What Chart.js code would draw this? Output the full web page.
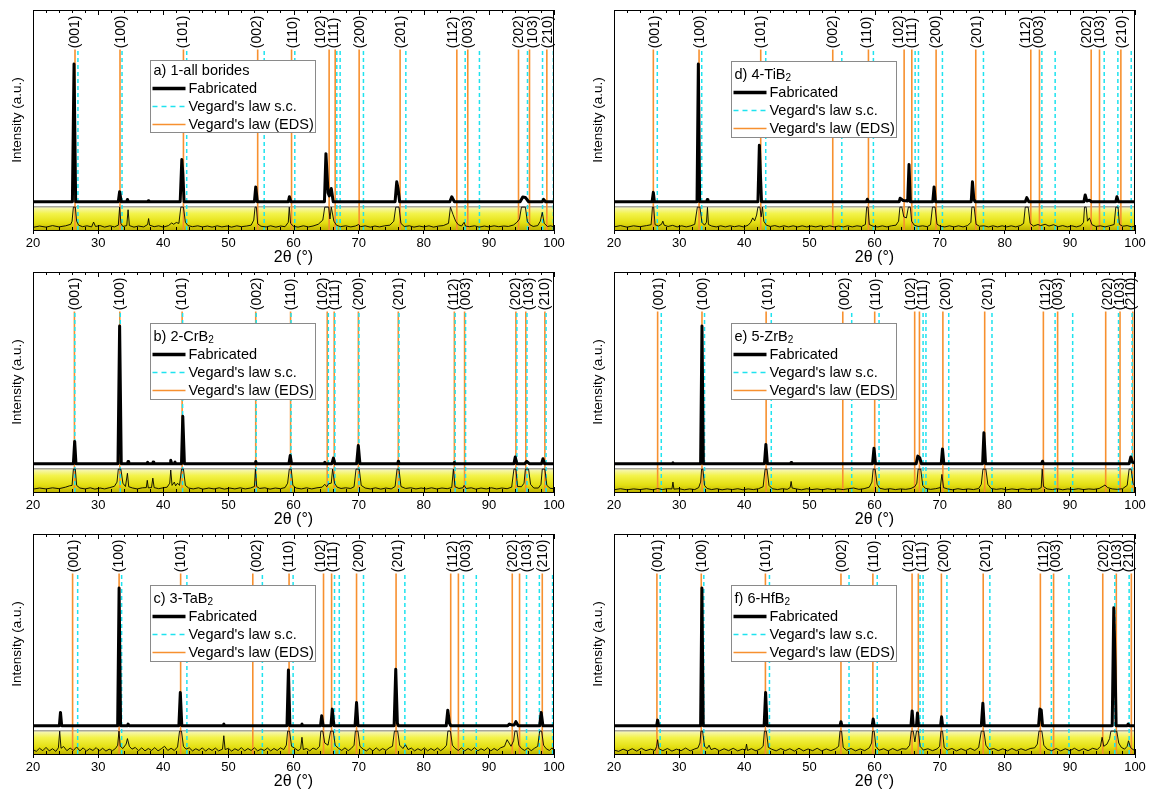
<!DOCTYPE html>
<html><head><meta charset="utf-8">
<script src="https://cdn.jsdelivr.net/npm/chart.js@4.4.1/dist/chart.umd.min.js"></script>
<style>
html,body{margin:0;padding:0;background:#fff;width:1149px;height:789px;overflow:hidden;position:relative}
canvas{position:absolute}
</style></head><body>
<canvas id="pa" width="575" height="268" style="left:0;top:0"></canvas>
<canvas id="pb" width="575" height="268" style="left:0;top:262px"></canvas>
<canvas id="pc" width="575" height="268" style="left:0;top:524px"></canvas>
<canvas id="pd" width="568" height="268" style="left:581px;top:0"></canvas>
<canvas id="pe" width="568" height="268" style="left:581px;top:262px"></canvas>
<canvas id="pf" width="568" height="268" style="left:581px;top:524px"></canvas>
<script>
// ---------- data ----------
const xMin = 20, xMax = 100, xStep = 10, xMinorStep = 2;
const yMin = 0, yMax = 100;
const bandTop = 10.6;       // top of the yellow inset band (intensity units of the panel)
const lineTop = 82;         // top of the reference lines
const labelBase = 82.6;     // start of the (hkl) labels
const reflections = ['(001)','(100)','(101)','(002)','(110)','(102)','(111)','(200)','(201)','(112)','(003)','(202)','(103)','(210)'];
const legendLabels = ['Fabricated', "Vegard's law s.c.", "Vegard's law (EDS)"];
const xTitle = '2\u03B8 (\u00B0)';
const yTitle = 'Intensity (a.u.)';

// Vegard's law (EDS) positions, Vegard's law s.c. positions, label positions
const edsA = [26.45,33.36,43.1,54.5,59.7,65.47,66.4,70.08,76.37,85.08,86.76,94.55,96.24,98.9];
const scA  = [26.9,33.67,43.6,55.5,60.2,66.65,67.16,70.74,77.25,86.36,88.55,95.93,98.24,99.9];
const lblA = [26.45,33.4,43.0,54.4,59.8,64.1,66.1,70.1,76.4,84.5,86.7,94.5,96.65,99.1];

const edsB = [26.36,33.33,42.9,54.2,59.55,65.18,66.25,69.96,76.09,84.7,86.27,94.15,95.67,98.6];
const scB  = [26.42,33.4,42.97,54.27,59.62,65.35,66.35,70.05,76.2,84.82,86.42,94.3,95.85,98.78];
const lblB = [26.45,33.33,42.9,54.3,59.55,64.45,66.25,69.96,76.09,84.53,86.5,94.15,96.06,98.6];

const edsC = [26.08,33.22,42.67,53.75,59.32,64.61,65.85,69.68,75.75,84.14,85.32,93.59,94.71,98.2];
const scC  = [26.86,33.61,43.63,55.22,59.94,66.3,67.03,70.75,77.1,86.1,88.07,95.78,97.75,99.78];
const lblC = [26.2,33.22,42.67,54.3,59.32,64.22,66.08,70.07,75.98,84.42,86.5,93.7,95.78,98.2];

const edsD = [26.04,33.06,42.53,53.59,59.07,64.55,65.73,69.46,75.55,84.0,85.33,93.27,94.55,97.83];
const scD  = [26.65,33.47,43.3,54.98,59.83,66.24,66.75,70.43,76.73,85.7,87.74,95.27,97.37,99.42];
const lblD = [26.3,33.2,42.53,53.59,58.82,63.68,65.73,69.46,75.71,83.23,85.18,92.61,94.55,97.9];

const edsE = [26.7,33.51,43.36,55.13,60.03,66.17,66.9,70.5,76.92,85.93,88.12,95.5,97.7,99.66];
const scE  = [27.26,33.9,44.15,56.5,60.7,67.46,67.9,71.4,78.04,87.73,90.43,97.47,99.55,101.5];
const lblE = [26.8,33.68,43.53,55.36,60.14,65.49,67.46,70.95,77.31,86.32,88.18,95.78,97.7,99.27];

const edsF = [26.59,33.4,43.25,54.85,59.75,65.77,66.73,70.27,76.69,85.47,87.5,95.05,97.13,99.44];
const scF  = [27.09,33.79,43.87,56.09,60.42,67.0,67.46,71.12,77.71,87.16,89.86,96.9,99.1,101.3];
const lblF = [26.7,33.51,43.36,54.96,59.86,65.2,67.18,70.67,77.03,85.93,87.84,95.2,97.13,99.1];

// Fabricated patterns (2theta, intensity) pairs
const mainA = [20,12.85, 26.05,12.85, 26.3,75.5, 26.55,12.85, 33.1,12.85, 33.3,17.4, 33.55,12.85, 34.4,12.85, 34.5,13.9, 34.65,12.85, 37.6,12.85, 37.7,13.3, 37.8,12.85, 42.6,12.85, 42.85,32, 43.0,26, 43.2,12.85, 54.0,12.85, 54.2,19.6, 54.45,12.85, 59.2,12.85, 59.37,15.1, 59.6,12.85, 64.75,12.85, 64.98,34.7, 65.3,17, 65.5,15.5, 65.8,18.9, 66.1,12.85, 75.6,12.85, 75.85,21.9, 76.05,19, 76.3,12.85, 84.0,12.85, 84.3,15.1, 84.7,12.85, 94.8,12.85, 95.2,15, 95.6,14.8, 96.1,12.85, 98.2,12.85, 98.4,13.9, 98.7,12.85, 100,12.85];
const mainB = [20,12.85, 26.2,12.85, 26.4,23.0, 26.6,12.85, 33.05,12.85, 33.3,75.5, 33.55,12.85, 34.5,12.85, 34.6,13.9, 34.7,12.85, 37.5,12.85, 37.6,13.5, 37.7,12.85, 38.35,12.85, 38.45,13.6, 38.55,12.85, 41.05,12.85, 41.15,14.4, 41.3,12.85, 41.7,12.85, 41.8,13.6, 41.9,12.85, 42.8,12.85, 43.0,34.4, 43.25,12.85, 54.1,12.85, 54.2,13.9, 54.3,12.85, 59.3,12.85, 59.5,16.6, 59.7,12.85, 64.7,12.85, 64.8,13.5, 64.9,12.85, 65.9,12.85, 66.13,15.4, 66.35,12.85, 69.7,12.85, 69.95,21.1, 70.2,12.85, 76.0,12.85, 76.1,14.0, 76.25,12.85, 84.6,12.85, 84.7,13.4, 84.8,12.85, 93.85,12.85, 94.05,15.9, 94.3,12.85, 95.5,12.85, 95.8,13.9, 96.2,12.85, 98.1,12.85, 98.3,15.1, 98.55,12.85, 100,12.85];
const mainC = [20,12.85, 24.05,12.85, 24.22,18.9, 24.4,12.85, 33.0,12.85, 33.22,75.5, 33.45,12.85, 34.5,12.85, 34.6,13.6, 34.75,12.85, 42.4,12.85, 42.62,27.9, 42.85,12.85, 49.2,12.85, 49.3,13.6, 49.4,12.85, 59.0,12.85, 59.22,38.2, 59.45,12.85, 61.2,12.85, 61.3,13.6, 61.4,12.85, 64.15,12.85, 64.33,17.4, 64.55,12.85, 65.75,12.85, 65.96,20.4, 66.2,12.85, 69.45,12.85, 69.68,23.4, 69.9,12.85, 75.45,12.85, 75.7,38.5, 75.95,14, 76.1,12.85, 83.45,12.85, 83.69,19.9, 83.95,14, 84.15,12.85, 92.9,12.85, 93.14,13.6, 93.5,13.2, 93.9,13.2, 94.15,14.7, 94.5,12.85, 97.8,12.85, 98.03,18.9, 98.3,12.85, 100,12.85];
const mainD = [20,12.85, 25.85,12.85, 26.04,17.1, 26.2,12.85, 32.75,12.85, 32.95,75.5, 33.15,12.85, 34.25,12.85, 34.33,13.9, 34.42,12.85, 42.1,12.85, 42.32,38.5, 42.5,24, 42.65,12.85, 58.75,12.85, 58.9,14.0, 59.05,12.85, 63.8,12.85, 63.93,14.4, 64.4,13.4, 65.1,13.2, 65.3,29.8, 65.5,12.85, 68.95,12.85, 69.15,19.6, 69.35,12.85, 74.85,12.85, 75.04,21.9, 75.25,14, 75.45,12.85, 83.15,12.85, 83.38,14.7, 83.7,12.85, 92.15,12.85, 92.35,15.9, 92.6,13.2, 93.0,13.5, 93.3,12.85, 97.05,12.85, 97.22,15.1, 97.45,12.85, 100,12.85];
const mainE = [20,12.85, 28.95,12.85, 29.05,13.3, 29.15,12.85, 33.3,12.85, 33.51,75.5, 33.72,12.85, 43.1,12.85, 43.32,21.6, 43.55,12.85, 47.1,12.85, 47.2,13.4, 47.3,12.85, 59.7,12.85, 59.92,19.9, 60.15,12.85, 66.4,12.85, 66.65,16.3, 66.95,15.5, 67.2,12.85, 70.25,12.85, 70.44,19.6, 70.65,12.85, 76.6,12.85, 76.8,26.9, 77.05,12.85, 85.65,12.85, 85.8,14.0, 85.95,12.85, 99.1,12.85, 99.35,15.9, 99.6,13.6, 100,13.1];
const mainF = [20,12.85, 26.55,12.85, 26.7,15.4, 26.85,12.85, 33.3,12.85, 33.5,75.5, 33.7,12.85, 43.05,12.85, 43.28,27.9, 43.5,12.85, 54.7,12.85, 54.85,14.7, 55.0,12.85, 59.65,12.85, 59.8,15.9, 59.95,12.85, 65.6,12.85, 65.78,19.6, 65.95,12.85, 66.45,12.85, 66.6,18.6, 66.75,12.85, 70.15,12.85, 70.3,16.9, 70.45,12.85, 76.4,12.85, 76.64,23.1, 76.85,12.85, 85.2,12.85, 85.4,20.4, 85.6,20, 85.8,12.85, 96.5,12.85, 96.74,66.5, 96.95,40, 97.1,12.85, 98.8,12.85, 98.95,13.6, 99.1,12.85, 100,12.85];

// Inset (magnified) patterns in the yellow band, (2theta, intensity) pairs
const bandA = [20,1.2, 21,1.8, 22,1.3, 23,2.0, 24,1.4, 25,1.9, 25.8,2.6, 26.0,4, 26.2,10.4, 26.5,10.4, 26.7,4, 27.0,2.2, 27.6,1.5, 28.3,1.9, 29.0,1.4, 29.3,3.6, 29.6,1.6, 30.3,2.0, 31.0,1.3, 31.8,1.9, 32.5,1.4, 33.1,2.2, 33.3,10.4, 33.5,3, 33.8,1.6, 34.4,2, 34.6,9.2, 34.8,2, 35.5,1.3, 36.2,1.8, 37.0,1.4, 37.6,2.5, 37.75,5.2, 37.9,2.2, 38.6,1.5, 39.3,1.9, 40.0,1.3, 40.8,2.0, 41.3,3.2, 41.6,2.6, 42.0,3.4, 42.4,3.0, 42.7,10.4, 43.1,10.4, 43.4,3.5, 43.8,2.0, 44.5,1.5, 45.3,1.9, 46.0,1.4, 46.8,1.8, 47.5,1.3, 48.3,1.9, 49,1.4, 49.8,1.8, 50.5,1.3, 51.3,1.9, 52,1.5, 52.8,1.8, 53.5,2.2, 53.9,4.5, 54.1,10.4, 54.3,10.4, 54.5,2.8, 55,1.7, 55.8,1.4, 56.5,1.9, 57.3,1.3, 58,1.8, 58.7,1.5, 59.2,3.5, 59.35,10.4, 59.55,3, 60,1.7, 60.7,1.3, 61.5,1.9, 62.3,1.4, 63,1.8, 63.8,2.6, 64.5,4.5, 64.8,10.4, 65.4,10.4, 65.6,5, 65.8,10.4, 66.2,4, 66.6,2.2, 67.2,1.5, 68,1.9, 68.8,1.4, 69.5,1.8, 70.0,2.5, 70.3,1.5, 71,1.9, 71.8,1.3, 72.5,1.8, 73.2,1.4, 74,1.9, 74.8,2.2, 75.4,4, 75.7,10.4, 76.2,10.4, 76.5,3, 77,1.6, 77.8,1.9, 78.5,1.3, 79.3,1.8, 80,1.4, 80.8,1.9, 81.5,1.3, 82.3,1.8, 83,2.0, 83.8,3, 84.1,10.4, 84.5,7, 84.9,4, 85.3,2.4, 85.8,1.8, 86.2,3.5, 86.4,1.8, 87,1.5, 87.8,1.9, 88.5,1.3, 89.3,1.8, 90,1.4, 90.8,1.9, 91.5,1.5, 92.3,1.8, 93,1.6, 93.8,2.3, 94.3,3.5, 94.7,5, 95.0,10.4, 95.6,10.4, 95.9,4, 96.3,2.4, 96.8,1.6, 97.5,2.0, 97.9,4, 98.2,8, 98.5,3, 99,1.6, 99.5,1.9, 100,1.4];
const bandB = [20,1.3, 21,1.8, 22,1.4, 23,1.9, 24,1.5, 25,2.2, 25.6,2.8, 26.0,3, 26.2,10.4, 26.5,10.4, 26.7,3, 27.2,1.8, 28,1.4, 28.8,1.9, 29.5,1.3, 30.3,1.8, 31,1.4, 31.8,2.0, 32.5,2.6, 32.9,4.5, 33.1,10.4, 33.5,10.4, 33.8,4, 34.2,2.5, 34.5,8.5, 34.7,2.4, 35.3,1.8, 36,1.4, 36.8,1.9, 37.4,2.0, 37.55,5.3, 37.7,1.9, 38.2,2, 38.4,6.3, 38.6,2, 39.3,1.5, 40,1.9, 40.6,2.2, 41.0,4, 41.15,10, 41.35,3, 41.7,4.5, 41.9,2.8, 42.2,4, 42.5,3, 42.8,10.4, 43.1,10.4, 43.4,3, 43.9,1.8, 44.6,1.4, 45.4,1.9, 46.1,1.3, 47,1.8, 47.8,1.4, 48.6,1.9, 49.4,1.3, 50.2,1.8, 51,1.4, 51.8,1.9, 52.6,1.4, 53.4,1.8, 54.0,2.5, 54.15,10.4, 54.35,2.5, 54.8,1.6, 55.6,1.9, 56.4,1.3, 57.2,1.8, 58,1.5, 58.7,2, 59.1,4, 59.35,10.4, 59.65,10.4, 59.9,3, 60.4,1.8, 61.2,1.4, 62,1.9, 62.8,1.4, 63.6,1.9, 64.4,2.2, 64.8,3.5, 65.1,2.4, 65.4,3.8, 65.8,4, 66.0,10.4, 66.3,4, 66.7,2.2, 67.3,1.6, 68,1.9, 68.8,1.6, 69.3,2.4, 69.6,10.4, 70.1,10.4, 70.4,3, 71,1.8, 71.8,1.4, 72.6,1.9, 73.4,1.3, 74.2,1.8, 75,1.4, 75.6,2.5, 75.9,10.4, 76.2,10.4, 76.5,2.5, 77.2,1.6, 78,1.9, 78.8,1.4, 79.6,1.8, 80.4,1.4, 81.2,1.9, 82,1.4, 82.8,1.8, 83.6,1.5, 84.3,2, 84.55,10.4, 84.8,2.4, 85.4,1.6, 86,1.9, 86.2,3, 86.5,1.6, 87.3,1.9, 88,1.3, 88.8,1.8, 89.6,1.4, 90.4,1.9, 91.2,1.4, 92,1.8, 92.8,1.5, 93.5,2.2, 93.85,10.4, 94.15,10.4, 94.4,2.5, 95.0,2.4, 95.4,4, 95.6,10.4, 96.1,10.4, 96.4,3.5, 96.9,1.8, 97.6,1.8, 98.0,3.5, 98.2,10.4, 98.6,10.4, 98.9,3, 99.4,1.7, 100,1.5];
const bandC = [20,2.0, 20.5,1.2, 21,2.6, 21.5,1.5, 22,3.0, 22.5,1.4, 23,2.4, 23.5,1.2, 23.9,2.8, 24.1,10.4, 24.3,2.6, 24.7,3.4, 25.2,1.5, 25.7,2.7, 26.2,1.6, 26.7,3.2, 27.2,1.4, 27.7,2.8, 28.2,1.3, 28.7,2.4, 29.2,1.6, 29.7,2.9, 30.2,1.4, 30.7,2.6, 31.2,1.3, 31.7,2.2, 32.2,1.5, 32.7,2.6, 33.0,4, 33.2,10.4, 33.4,3.5, 33.8,2.5, 34.3,4.5, 34.5,7, 34.8,3.5, 35.2,2.2, 35.7,3, 36.2,1.5, 36.7,2.8, 37.2,1.4, 37.7,2.5, 38.2,1.6, 38.7,2.9, 39.2,1.4, 39.7,2.4, 40.2,3.5, 40.7,1.6, 41.2,2.6, 41.7,1.6, 42.2,3.2, 42.5,10.4, 42.8,10.4, 43.1,3.5, 43.5,2.2, 44,2.8, 44.5,1.4, 45,2.4, 45.5,1.6, 46,2.8, 46.5,1.3, 47,2.5, 47.5,1.6, 48,2.7, 48.5,1.4, 49.1,2.2, 49.3,8.3, 49.5,2, 50,2.6, 50.5,1.3, 51,2.4, 51.5,1.6, 52,2.9, 52.5,1.4, 53,2.5, 53.5,1.6, 54,2.8, 54.5,1.4, 55,2.3, 55.5,1.6, 56,2.7, 56.5,1.4, 57,2.5, 57.5,1.6, 58,2.8, 58.5,2, 58.9,4, 59.1,10.4, 59.4,10.4, 59.7,3.5, 60.2,2.6, 60.7,1.5, 61.1,2.4, 61.3,7.6, 61.5,2, 62,2.5, 62.5,1.4, 63,2.7, 63.5,2, 64,3.5, 64.2,10.4, 64.5,10.4, 64.8,5, 65.3,4, 65.7,10.4, 66.1,10.4, 66.4,4, 66.9,2.6, 67.4,1.6, 67.9,2.8, 68.4,1.5, 68.9,2.6, 69.3,4, 69.5,10.4, 69.9,10.4, 70.2,3.5, 70.7,2.2, 71.2,1.4, 71.7,2.6, 72.2,1.4, 72.7,2.8, 73.2,1.5, 73.7,2.5, 74.2,1.6, 74.7,2.8, 75.2,3.5, 75.5,10.4, 76.0,10.4, 76.3,4, 76.8,2.5, 77.2,4.2, 77.6,2, 78.1,2.7, 78.6,1.4, 79.1,2.4, 79.6,1.6, 80.1,2.8, 80.6,1.4, 81.1,2.5, 81.6,1.6, 82.1,2.7, 82.6,1.5, 83.1,2.6, 83.5,4, 83.7,10.4, 84.1,10.4, 84.4,4, 84.8,2.6, 85.3,1.6, 85.8,2.8, 86.3,1.4, 86.8,2.5, 87.3,1.6, 87.8,2.9, 88.3,1.4, 88.8,2.4, 89.3,1.6, 89.8,2.8, 90.3,1.4, 90.8,2.5, 91.3,1.6, 91.8,2.8, 92.4,3.5, 92.8,6.5, 93.1,5, 93.4,3.5, 93.8,6, 94.0,10.4, 94.3,10.4, 94.6,4, 95,2.5, 95.5,1.6, 96,2.8, 96.5,1.5, 97,2.6, 97.5,3.5, 97.8,10.4, 98.1,10.4, 98.4,4, 98.8,2.4, 99.3,1.6, 99.7,2.8, 100,1.6];
const bandD = [20,1.4, 21,2.0, 22,1.3, 23,1.9, 24,1.5, 25,2.0, 25.7,2.4, 25.9,10.4, 26.1,10.4, 26.3,2.4, 26.8,1.8, 27.3,2.6, 27.5,4, 27.7,2.2, 28.3,1.6, 29,2.1, 29.7,1.4, 30.4,1.9, 31.1,1.4, 31.8,1.9, 32.4,2.6, 32.8,10.4, 33.2,10.4, 33.5,3.5, 33.9,2.2, 34.2,3.5, 34.35,10.3, 34.5,2.5, 35,1.8, 35.7,1.4, 36.4,1.9, 37.1,1.4, 37.8,1.9, 38.5,1.5, 39.2,1.9, 39.9,1.4, 40.6,2.2, 41.0,3.5, 41.3,5.5, 41.6,4.2, 41.9,6.8, 42.1,10.4, 42.4,10.4, 42.6,6, 42.8,10.4, 43.0,4, 43.4,2.2, 44,1.6, 44.7,2.0, 45.4,1.4, 46.1,1.9, 46.8,1.4, 47.5,1.9, 48.2,1.4, 48.9,1.9, 49.6,1.4, 50.3,1.8, 51,1.4, 51.7,1.9, 52.4,1.4, 53.1,1.9, 53.8,1.4, 54.5,1.8, 55.2,1.4, 55.9,1.9, 56.6,1.4, 57.3,1.9, 58,1.6, 58.6,2.5, 58.8,10.4, 59.0,10.4, 59.2,2.5, 59.8,1.7, 60.5,1.4, 61.2,1.9, 61.9,1.4, 62.6,1.9, 63.3,2.2, 63.7,4, 63.9,10.4, 64.2,10.4, 64.5,6, 64.9,5.5, 65.2,10.4, 65.5,10.4, 65.7,4, 66.1,2.2, 66.7,1.6, 67.4,1.9, 68.1,1.5, 68.6,2.4, 68.9,10.4, 69.3,10.4, 69.6,2.6, 70.1,1.7, 70.8,1.4, 71.5,1.9, 72.2,1.4, 72.9,1.9, 73.6,1.4, 74.3,2.0, 74.8,3.5, 74.95,10.4, 75.3,10.4, 75.6,2.6, 76.1,1.7, 76.8,1.9, 77.5,1.4, 78.2,1.9, 78.9,1.4, 79.6,1.9, 80.3,1.4, 81,1.9, 81.7,1.4, 82.4,2, 82.9,3, 83.15,10.4, 83.6,10.4, 83.9,3, 84.4,1.8, 85.1,2.5, 85.5,2.0, 86.2,2.6, 86.8,1.8, 87.5,2.4, 88.2,1.5, 88.9,2.0, 89.6,1.4, 90.3,1.9, 91,1.4, 91.7,2.0, 92.1,3.5, 92.25,10.4, 92.5,10.4, 92.7,4, 93.0,5.5, 93.4,2.4, 94,1.6, 94.7,1.9, 95.4,1.4, 96.1,1.9, 96.8,2.5, 97.05,10.4, 97.4,10.4, 97.6,2.6, 98.1,1.7, 98.8,2.0, 99.5,1.4, 100,1.8];
const bandE = [20,1.0, 21,1.5, 22,1.0, 23,1.4, 24,1.1, 25,1.5, 26,1.0, 26.7,1.6, 27.4,1.1, 28.2,1.5, 28.9,1.4, 29.05,4.5, 29.2,1.3, 30,1.5, 30.8,1.0, 31.6,1.4, 32.4,1.1, 33.0,2, 33.3,4.5, 33.45,10.4, 33.65,10.4, 33.9,3, 34.3,1.6, 35,1.1, 35.8,1.5, 36.6,1.0, 37.4,1.4, 38.2,1.1, 39,1.5, 39.8,1.0, 40.6,1.4, 41.4,1.1, 42.2,1.5, 42.9,2.4, 43.2,10.4, 43.5,10.4, 43.8,3, 44.3,1.5, 45.1,1.1, 45.9,1.5, 46.6,1.2, 47.05,2, 47.2,4.8, 47.35,1.8, 48,1.4, 48.8,1.0, 49.6,1.5, 50.4,1.1, 51.2,1.4, 52,1.0, 52.8,1.5, 53.6,1.1, 54.4,1.4, 55.2,1.1, 56,1.5, 56.8,1.8, 57.6,1.2, 58.4,1.5, 59.2,2.2, 59.6,4.5, 59.8,10.4, 60.1,10.4, 60.4,3.5, 60.8,1.7, 61.6,1.2, 62.4,1.5, 63.2,1.1, 64,1.4, 64.8,1.2, 65.6,1.6, 66.2,2.5, 66.5,4, 66.7,10.4, 67.1,10.4, 67.4,3, 67.8,1.7, 68.6,1.2, 69.4,1.5, 70.1,2, 70.35,8, 70.6,2, 71.2,1.4, 72,1.0, 72.8,1.5, 73.6,1.1, 74.4,1.4, 75.2,1.1, 76,1.6, 76.4,3.5, 76.65,10.4, 77.1,10.4, 77.4,3.5, 77.9,1.6, 78.7,1.2, 79.5,1.5, 80.3,1.0, 81.1,1.4, 81.9,1.1, 82.7,1.5, 83.5,1.1, 84.3,1.4, 85.1,1.3, 85.6,2, 85.75,10.4, 85.95,2.5, 86.5,1.4, 87.3,1.1, 88.1,1.5, 88.9,1.0, 89.7,1.4, 90.5,1.1, 91.3,1.5, 92.1,1.1, 92.9,1.4, 93.7,1.2, 94.5,1.6, 95.1,2.6, 95.4,3.2, 95.8,2, 96.5,1.4, 97.3,1.2, 98.1,1.5, 98.8,3, 99.1,10.4, 99.4,10.4, 99.7,4, 100,2.5];
const bandF = [20,1.8, 20.7,1.2, 21.4,2.2, 22.1,1.4, 22.8,2.4, 23.5,1.3, 24.2,2.6, 24.9,1.5, 25.6,2.2, 26.3,1.6, 26.55,3.5, 26.7,6.5, 26.9,2.4, 27.5,1.5, 28.2,2.5, 28.9,1.3, 29.6,2.2, 30.3,1.5, 31,2.7, 31.7,1.4, 32.4,2.3, 32.9,2.8, 33.2,5, 33.35,10.4, 33.6,10.4, 33.9,3.5, 34.3,2.5, 34.6,4, 34.9,2, 35.5,2.6, 36.2,1.4, 36.9,2.4, 37.6,1.5, 38.3,2.6, 39,1.4, 39.7,2.2, 40.2,1.8, 40.35,4.5, 40.5,1.6, 41.1,2.4, 41.8,1.4, 42.5,2.4, 42.9,3.5, 43.1,10.4, 43.4,10.4, 43.7,3, 44.2,2.2, 44.9,1.4, 45.6,2.5, 46.3,1.5, 47,2.4, 47.7,1.3, 48.4,2.6, 49.1,1.4, 49.8,2.3, 50.5,1.5, 51.2,2.6, 51.9,1.4, 52.6,2.3, 53.3,1.5, 54,2.4, 54.5,3.5, 54.7,10.4, 54.95,10.4, 55.2,3, 55.7,1.7, 56.4,2.5, 57.1,1.4, 57.8,2.3, 58.5,1.5, 59.2,2.8, 59.55,5, 59.7,10.4, 59.95,10.4, 60.2,3.5, 60.7,1.7, 61.4,2.4, 62.1,1.4, 62.8,2.5, 63.5,1.5, 64.2,2.4, 64.9,2.2, 65.4,4, 65.65,10.4, 65.95,10.4, 66.2,5.5, 66.45,10.4, 66.75,10.4, 67.0,3.5, 67.5,1.8, 68.2,2.4, 68.9,1.5, 69.6,2.3, 70.0,3.5, 70.2,10.4, 70.45,10.4, 70.7,3, 71.2,1.8, 71.9,2.5, 72.6,1.4, 73.3,2.4, 74,1.5, 74.7,2.6, 75.4,1.6, 76.0,3.0, 76.4,10.4, 76.8,10.4, 77.1,4, 77.6,2, 78.3,2.5, 79,1.5, 79.7,2.4, 80.4,1.4, 81.1,2.5, 81.8,1.5, 82.5,2.4, 83.2,1.6, 83.9,2.5, 84.6,2.8, 85.0,4.5, 85.25,10.4, 85.7,10.4, 86.0,4, 86.5,2.2, 87.2,1.5, 87.9,2.5, 88.6,1.4, 89.3,2.4, 90,1.5, 90.7,2.6, 91.4,1.4, 92.1,2.4, 92.8,1.5, 93.5,2.6, 94.2,2.0, 94.7,3.5, 94.95,7.6, 95.2,3.5, 95.7,4.5, 96.1,7, 96.3,10.4, 97.2,10.4, 97.5,5, 97.9,3, 98.4,2.2, 98.8,3.5, 99.0,6, 99.3,3, 99.7,2.0, 100,1.6];

const titleA = ['a) 1-all borides',''];
const titleB = ['b) 2-CrB','2'];
const titleC = ['c) 3-TaB','2'];
const titleD = ['d) 4-TiB','2'];
const titleE = ['e) 5-ZrB','2'];
const titleF = ['f) 6-HfB','2'];

// ---------- styles ----------
const FONT = '"Liberation Sans", Arial, Helvetica, sans-serif';
const ORANGE = '#f7902f';
const CYAN = '#1fe3ef';

function pairs(flat){ const o=[]; for(let i=0;i<flat.length;i+=2) o.push({x:flat[i],y:flat[i+1]}); return o; }
function vlines(arr){ const o=[]; arr.forEach(p=>{ o.push({x:p,y:yMin},{x:p,y:lineTop},{x:p,y:null}); }); return o; }

const panelPlugin = {
  id:'panelDeco',
  afterDatasetsDraw(chart){
    const o = chart.options.plugins.panelDeco;
    const {ctx, scales:{x,y}} = chart;
    ctx.save();
    ctx.font = '14px '+FONT; ctx.fillStyle='#000'; ctx.textAlign='left'; ctx.textBaseline='middle';
    const y0 = y.getPixelForValue(labelBase);
    o.labels.forEach((v,i)=>{
      ctx.save(); ctx.translate(x.getPixelForValue(v), y0); ctx.rotate(-Math.PI/2);
      ctx.fillText(reflections[i],0,0.5); ctx.restore();
    });
    ctx.restore();
  },
  afterDraw(chart){
    const o = chart.options.plugins.panelDeco;
    const {ctx, chartArea:ca, scales:{x}} = chart;
    ctx.save();
    ctx.strokeStyle='#000'; ctx.lineWidth=1;
    ctx.strokeRect(Math.round(ca.left)+0.5, Math.round(ca.top)+0.5, Math.round(ca.right-ca.left)-1, Math.round(ca.bottom-ca.top));
    ctx.beginPath();
    for(let v=xMin; v<=xMax; v+=xMinorStep){
      const px = Math.round(x.getPixelForValue(v))+0.5;
      const len = (v % xStep === 0) ? 5 : 3;
      ctx.moveTo(px, ca.top); ctx.lineTo(px, ca.top+len);
      ctx.moveTo(px, ca.bottom); ctx.lineTo(px, ca.bottom-len);
    }
    ctx.stroke();
    // legend box
    const sub = o.title[1];
    const L = Math.round(ca.left + 117)+0.5, T = Math.round(ca.top + (sub?51:50))+0.5, W = 165, H = sub?76:72;
    ctx.fillStyle='#fff'; ctx.fillRect(L,T,W,H);
    ctx.strokeStyle='#8a8a8a'; ctx.lineWidth=1; ctx.strokeRect(L,T,W,H);
    ctx.fillStyle='#000'; ctx.textAlign='left'; ctx.textBaseline='middle';
    ctx.font='14.5px '+FONT;
    const ty = T + (sub?13:10);
    ctx.fillText(o.title[0], L+3, ty);
    if(sub){ const w = ctx.measureText(o.title[0]).width; ctx.font='10px '+FONT; ctx.fillText(sub, L+3+w, ty+4); ctx.font='14.5px '+FONT; }
    const r0 = T + (sub?31:28);
    const styles = [{c:'#000',w:3.5,d:[]},{c:CYAN,w:1.5,d:[5,4]},{c:ORANGE,w:1.5,d:[]}];
    styles.forEach((s,i)=>{
      const yy = r0 + i*18;
      ctx.beginPath(); ctx.setLineDash(s.d); ctx.strokeStyle=s.c; ctx.lineWidth=s.w;
      ctx.moveTo(L+2, yy); ctx.lineTo(L+35, yy); ctx.stroke();
      ctx.setLineDash([]);
      ctx.fillStyle='#000'; ctx.fillText(legendLabels[i], L+38, yy+0.5);
    });
    ctx.restore();
  }
};

function bandGradient(context){
  const chart = context.chart; const {ctx, chartArea, scales} = chart;
  if(!chartArea) return 'rgba(0,0,0,0)';
  const y1 = scales.y.getPixelForValue(bandTop), y2 = scales.y.getPixelForValue(yMin);
  const g = ctx.createLinearGradient(0,y1,0,y2);
  g.addColorStop(0,'#f7f7c4'); g.addColorStop(0.3,'#f3f34a'); g.addColorStop(0.7,'#e4df12'); g.addColorStop(1,'#bfb400');
  return g;
}

function makePanel(id, rightPad, main, band, eds, sc, lbl, title){
  new Chart(document.getElementById(id), {
    type:'line',
    data:{ datasets:[
      {label:'Fabricated', data:pairs(main), borderColor:'#000', borderWidth:3, borderJoinStyle:'round', pointRadius:0, order:0},
      {label:'inset', data:pairs(band), borderColor:'#000', borderWidth:0.9, borderJoinStyle:'round', pointRadius:0, order:1},
      {label:legendLabels[1], data:vlines(sc), borderColor:CYAN, borderWidth:1.5, borderDash:[4,3], pointRadius:0, order:2},
      {label:legendLabels[2], data:vlines(eds), borderColor:ORANGE, borderWidth:1.6, pointRadius:0, order:3},
      {label:'band', data:[{x:xMin,y:bandTop},{x:xMax,y:bandTop}], borderColor:'#a9a89c', borderWidth:1.5, pointRadius:0,
       fill:'origin', backgroundColor:bandGradient, order:4}
    ]},
    options:{
      responsive:false, animation:false, events:[],
      elements:{ line:{tension:0}, point:{radius:0} },
      layout:{ padding:{top:10, right:rightPad, bottom:0, left:0} },
      scales:{
        x:{ type:'linear', min:xMin, max:xMax,
            afterFit:(s)=>{ s.height = 38; },
            ticks:{ stepSize:xStep, color:'#000', font:{family:FONT, size:13}, padding:2, maxRotation:0 },
            grid:{ display:true, drawOnChartArea:false, drawTicks:true, tickLength:4, color:'#000' },
            border:{ display:true, color:'#000', width:1 },
            title:{ display:true, text:xTitle, color:'#000', font:{family:FONT, size:16}, padding:{top:0,bottom:1} } },
        y:{ type:'linear', min:yMin, max:yMax,
            afterFit:(s)=>{ s.width = 33; },
            ticks:{ display:false }, grid:{ display:false, drawTicks:false },
            border:{ display:true, color:'#000', width:1 },
            title:{ display:true, text:yTitle, color:'#000', font:{family:FONT, size:13.5}, padding:{top:9,bottom:0} } }
      },
      plugins:{ legend:{display:false}, tooltip:{enabled:false}, panelDeco:{ labels:lbl, title:title } }
    },
    plugins:[panelPlugin]
  });
}

makePanel('pa', 21, mainA, bandA, edsA, scA, lblA, titleA);
makePanel('pb', 21, mainB, bandB, edsB, scB, lblB, titleB);
makePanel('pc', 21, mainC, bandC, edsC, scC, lblC, titleC);
makePanel('pd', 14, mainD, bandD, edsD, scD, lblD, titleD);
makePanel('pe', 14, mainE, bandE, edsE, scE, lblE, titleE);
makePanel('pf', 14, mainF, bandF, edsF, scF, lblF, titleF);
</script>
</body></html>
